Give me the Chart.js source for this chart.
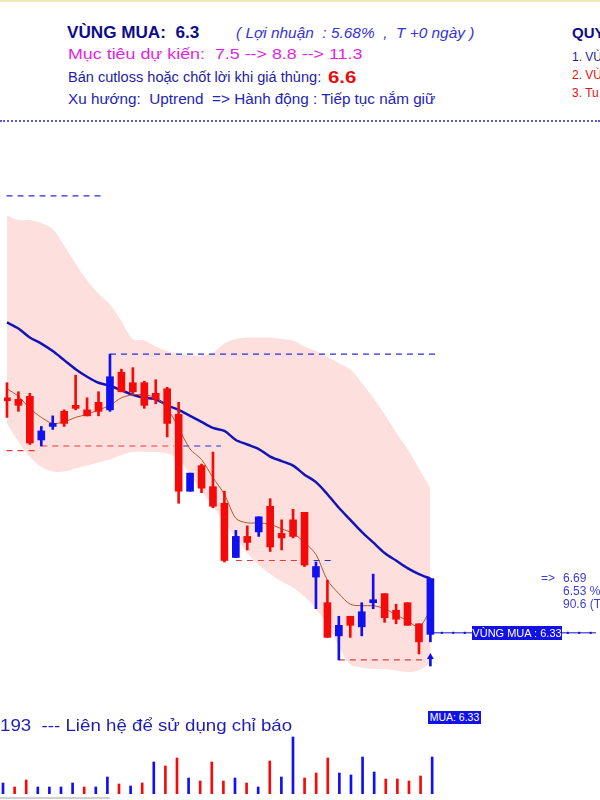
<!DOCTYPE html>
<html>
<head>
<meta charset="utf-8">
<script src="https://cdn.jsdelivr.net/npm/chart.js@4.4.1/dist/chart.umd.min.js"></script>
<style>
body { margin:0; width:600px; height:800px; position:relative; overflow:hidden; background:#fff;
       font-family:"Liberation Sans", Arial, sans-serif; }
.t { position:absolute; white-space:pre; line-height:1; transform-origin:0 50%; }
.box { position:absolute; background:#1212e6; color:#fff; white-space:pre; text-align:center; }
</style>
</head>
<body>
<div style="position:absolute;left:0;top:0;width:600px;height:2px;background:#f3e7b4"></div>

<div class="t" style="left:67px;top:25px;font-size:16px;font-weight:bold;color:#0c0c8c;transform:scaleX(1.07)">VÙNG MUA:  6.3</div>
<div class="t" style="left:236px;top:26px;font-size:14px;font-style:italic;color:#3434d4;transform:scaleX(1.1)">( Lợi nhuận  : 5.68%  ,  T +0 ngày )</div>
<div class="t" style="left:68px;top:46px;font-size:15px;color:#e41ee4;transform:scaleX(1.19)">Mục tiêu dự kiến:  7.5 --> 8.8 --> 11.3</div>
<div class="t" style="left:68px;top:70px;font-size:14px;color:#1c1ca4;transform:scaleX(1.04)">Bán cutloss hoặc chốt lời khi giá thủng:</div>
<div class="t" style="left:328px;top:69px;font-size:17px;font-weight:bold;color:#e80c0c;transform:scaleX(1.2)">6.6</div>
<div class="t" style="left:68px;top:92px;font-size:14px;color:#2424b4;transform:scaleX(1.09)">Xu hướng:  Uptrend  => Hành động : Tiếp tục nắm giữ</div>

<div class="t" style="left:572px;top:25px;font-size:15px;font-weight:bold;color:#0c0c8c">QUY</div>
<div class="t" style="left:572px;top:51px;font-size:12px;color:#1c1ca4">1. VÙ</div>
<div class="t" style="left:572px;top:69px;font-size:12px;color:#e80c0c">2. VÙ</div>
<div class="t" style="left:572px;top:87px;font-size:12px;color:#e80c0c">3. Tu</div>

<div style="position:absolute;left:0;top:120px;width:600px;border-top:2px dotted #5c5cd6"></div>

<div style="position:absolute;left:0;top:125px;width:600px;height:570px">
  <canvas id="priceChart" width="600" height="570"></canvas>
</div>
<div style="position:absolute;left:0;top:700px;width:600px;height:94px">
  <canvas id="volChart" width="600" height="94"></canvas>
</div>

<div class="t" style="left:541px;top:572px;font-size:12px;color:#3c3cd0">=></div>
<div class="t" style="left:563px;top:572px;font-size:12px;color:#3c3cd0">6.69</div>
<div class="t" style="left:563px;top:585px;font-size:12px;color:#3c3cd0">6.53 %</div>
<div class="t" style="left:563px;top:598px;font-size:12px;color:#3c3cd0">90.6 (Ty</div>
<div class="box" style="left:472px;top:626px;width:90px;height:14px;font-size:11px;line-height:14px">VÙNG MUA : 6.33</div>

<div class="t" style="left:0px;top:717px;font-size:17px;color:#1e1eb4;transform:scaleX(1.1)">193  --- Liên hệ để sử dụng chỉ báo</div>
<div class="box" style="left:428px;top:711px;width:53px;height:13px;font-size:10.5px;line-height:13px">MUA: 6.33</div>
<div style="position:absolute;left:0;top:797px;width:110px;height:2px;background:#cfcfcf"></div>

<script>
// candles, oldest first
const opens  = [7.89,7.88,7.90,7.61,7.70,7.80,7.84,7.81,7.86,7.81, 8.06,7.99,7.99,7.92,7.95,7.78,7.27,7.44,7.30,7.19,
                6.83,6.97,7.00,7.17,6.99,7.08,7.13,6.70,6.53,6.31, 6.44,6.37,6.53,6.59,6.48,6.53,6.39,6.32];
const highs  = [7.99,7.93,7.92,7.70,7.77,7.81,8.04,7.89,7.93,8.18, 8.08,8.09,8.00,8.01,7.96,7.86,7.39,7.45,7.53,7.27,
                7.01,7.04,7.10,7.22,7.08,7.15,7.13,6.80,6.68,6.44, 6.44,6.53,6.72,6.59,6.52,6.53,6.39,6.69];
const lows   = [7.76,7.80,7.58,7.57,7.68,7.70,7.81,7.77,7.77,7.80, 7.93,7.92,7.82,7.85,7.63,7.19,7.27,7.26,7.16,6.80,
                6.83,6.88,6.97,6.87,6.88,6.96,6.77,6.49,6.30,6.15, 6.30,6.31,6.49,6.40,6.39,6.38,6.19,6.27];
const closes = [7.87,7.84,7.59,7.67,7.72,7.72,7.82,7.77,7.80,8.03, 7.93,7.93,7.84,7.88,7.72,7.27,7.39,7.29,7.17,6.81,
                6.97,6.93,7.10,6.90,6.96,6.97,6.78,6.77,6.30,6.38, 6.38,6.47,6.55,6.43,6.42,6.38,6.27,6.69];
const volumes = [110,70,140,70,70,70,110,70,70,170, 100,80,110,320,280,360,160,130,320,130,
                 160,110,70,330,170,570,160,210,360,210, 190,370,220,150,150,130,180,370];

// indicator lines
const maSlow = [8.39,8.35,8.29,8.25,8.20,8.14,8.08,8.03,7.99,7.97, 7.94,7.91,7.89,7.88,7.84,7.81,7.77,7.73,7.69,7.67,
                7.61,7.58,7.55,7.50,7.47,7.44,7.38,7.33,7.25,7.16, 7.08,7.00,6.93,6.86,6.81,6.76,6.72,6.69];
const maFast = [7.95,7.90,7.82,7.76,7.72,7.73,7.76,7.78,7.81,7.84, 7.89,7.91,7.91,7.89,7.82,7.69,7.55,7.48,7.36,7.25,
                7.09,7.06,7.06,7.05,7.02,6.99,6.93,6.85,6.68,6.59, 6.52,6.51,6.51,6.49,6.45,6.41,6.37,6.48];
const bandUpper = [9.10,9.07,9.07,9.05,9.01,8.90,8.78,8.67,8.58,8.51, 8.40,8.28,8.27,8.23,8.20,8.18,8.17,8.17,8.19,8.25,
                   8.28,8.29,8.29,8.29,8.28,8.27,8.23,8.20,8.16,8.12, 8.08,7.99,7.89,7.78,7.66,7.55,7.42,7.29];
const bandLower = [7.72,7.60,7.50,7.43,7.40,7.40,7.42,7.44,7.46,7.48, 7.51,7.53,7.53,7.53,7.52,7.48,7.38,7.27,7.17,7.06,
                   6.96,6.86,6.78,6.72,6.67,6.63,6.57,6.49,6.38,6.24, 6.12,6.10,6.09,6.09,6.08,6.07,6.08,6.13];

// support / resistance segments (price, from bar, to bar)
const levelPrice = [9.23, 8.18, 7.54, 7.57, 7.57, 6.81, 6.81, 6.15];
const levelFrom  = [-1, 9, -1, 3, 15.4, 20, 26.8, 29];
const levelTo    = [8.6, 37.5, 2.5, 14.6, 18.7, 26.7, 28.4, 36.6];
const levelKind  = ['res', 'res', 'sup', 'sup', 'res', 'sup', 'res', 'sup'];

const buyPrice = 6.33;
const buyBar = 37;
const arrowTop = 6.17, arrowStemLow = 6.11;

const UP = '#1010f0', DOWN = '#f50a0a';
const X_MIN = -0.259, X_MAX = 51.47;

function pts(values) {
    return values.map((v, i) => ({x: i, y: v}));
}

function lineSet(data, color, width, order, extra = {}) {
    return Object.assign({
        type: 'line',
        data: data,
        borderColor: color,
        borderWidth: width,
        pointRadius: 0,
        fill: false,
        order: order
    }, extra);
}

function buildPriceChart() {
    const candleColor = closes.map((c, i) => c >= opens[i] ? UP : DOWN);

    const datasets = [];
    // bodies on top, wicks under them
    datasets.push({
        type: 'bar',
        data: opens.map((o, i) => ({x: i, y: [o, closes[i]]})),
        backgroundColor: candleColor,
        barThickness: 7,
        minBarLength: 2,
        grouped: false,
        order: 0
    });
    datasets.push({
        type: 'bar',
        data: lows.map((l, i) => ({x: i, y: [l, highs[i]]})),
        backgroundColor: candleColor,
        barThickness: 2,
        grouped: false,
        order: 1
    });
    // buy arrow
    datasets.push({
        type: 'bar',
        data: [{x: buyBar, y: [arrowStemLow, arrowTop]}],
        backgroundColor: UP,
        barThickness: 2,
        grouped: false,
        order: 1
    });
    datasets.push(lineSet([{x: buyBar, y: arrowTop}], UP, 0, 1, {
        pointRadius: 4, pointStyle: 'triangle', pointBackgroundColor: UP, showLine: false
    }));

    datasets.push(lineSet(pts(maFast), '#b4562a', 1, 2, {tension: 0.3}));
    datasets.push(lineSet(pts(maSlow), '#1414b4', 2.5, 3, {tension: 0.3}));

    levelPrice.forEach((p, k) => {
        const color = levelKind[k] === 'res' ? '#2a2ae0' : '#e8383c';
        datasets.push(lineSet([{x: levelFrom[k], y: p}, {x: levelTo[k], y: p}], color, 1.2, 4, {
            borderDash: [6, 5]
        }));
    });

    const buyLine = [];
    for (let i = buyBar; i <= 52; i++) buyLine.push({x: i, y: buyPrice});
    datasets.push(lineSet(buyLine, '#1414c8', 1, 4, {
        pointRadius: 1.5, pointStyle: 'rect', pointBackgroundColor: '#1414c8', pointBorderWidth: 0
    }));

    // band fill between upper and lower
    datasets.push(lineSet(pts(bandUpper), 'rgba(0,0,0,0)', 0, 6, {
        tension: 0.35, fill: '+1', backgroundColor: '#fde0de'
    }));
    datasets.push(lineSet(pts(bandLower), 'rgba(0,0,0,0)', 0, 7, {tension: 0.35}));

    const config = {
        type: 'bar',
        data: {datasets: datasets},
        options: {
            responsive: false,
            animation: false,
            devicePixelRatio: 1,
            layout: {padding: 0},
            scales: {
                x: {type: 'linear', display: false, offset: false, min: X_MIN, max: X_MAX},
                y: {type: 'linear', display: false, min: 5.944, max: 9.674}
            },
            plugins: {
                legend: {display: false},
                tooltip: {enabled: false}
            }
        }
    };
    new Chart(document.getElementById('priceChart').getContext('2d'), config);
}

function buildVolumeChart() {
    const volColor = closes.map((c, i) => (i === 0 || c >= closes[i - 1]) ? UP : DOWN);
    const config = {
        type: 'bar',
        data: {
            datasets: [{
                data: volumes.map((v, i) => ({x: i, y: v})),
                backgroundColor: volColor,
                barThickness: 2
            }]
        },
        options: {
            responsive: false,
            animation: false,
            devicePixelRatio: 1,
            layout: {padding: 0},
            scales: {
                x: {type: 'linear', display: false, offset: false, min: X_MIN, max: X_MAX},
                y: {type: 'linear', display: false, min: 0, max: 940}
            },
            plugins: {
                legend: {display: false},
                tooltip: {enabled: false}
            }
        }
    };
    new Chart(document.getElementById('volChart').getContext('2d'), config);
}

buildPriceChart();
buildVolumeChart();
</script>
</body>
</html>
